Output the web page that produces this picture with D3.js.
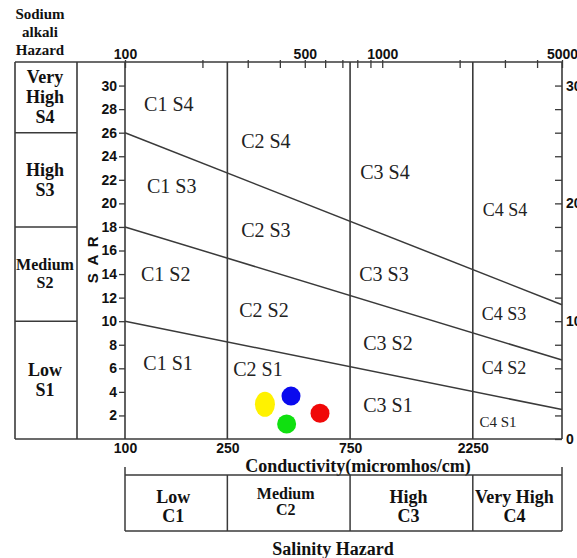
<!DOCTYPE html>
<html>
<head>
<meta charset="utf-8">
<script src="https://cdn.jsdelivr.net/npm/d3@7"></script>
<style>
  html, body { margin: 0; padding: 0; background: #fff; }
  svg { display: block; }
</style>
</head>
<body>
<svg id="chart" width="577" height="558"></svg>
<script>
// ---- Data ----------------------------------------------------------------
// Conductivity class boundaries (micromhos/cm)
const ecBreaks = [100, 250, 750, 2250, 5000];
const salinityNames = ["Low", "Medium", "High", "Very High"];
const salinityCodes = ["C1", "C2", "C3", "C4"];

// Sodium (SAR) class boundaries at 100 micromhos/cm
const sarBreaks = [0, 10, 18, 26, 32];
const sodiumNames = [["Low"], ["Medium"], ["High"], ["Very", "High"]];
const sodiumCodes = ["S1", "S2", "S3", "S4"];

// Sloping class boundaries: SAR at 100 and at 5000 micromhos/cm
const boundarySarAt100 = [10, 18, 26];
const boundarySarAt5000 = [2.5, 6.7, 11.4];

// Axis ticks
const topTickValues = [100, 200, 300, 400, 500, 600, 700, 800, 900, 1000, 2000, 3000, 4000, 5000];
const topTickLabels = [100, 500, 1000, 5000];
const bottomTickLabels = [100, 250, 750, 2250];
const sarTickValues = [2, 4, 6, 8, 10, 12, 14, 16, 18, 20, 22, 24, 26, 28, 30];
const rightTickValues = [0, 2, 4, 6, 8, 10, 12, 14, 16, 18, 20, 22, 24, 26, 28, 30];
const rightTickLabels = [0, 10, 20, 30];

// Zone labels anchored in data space (EC, SAR)
const zoneNames = ["C1 S4", "C1 S3", "C1 S2", "C1 S1",
                   "C2 S4", "C2 S3", "C2 S2", "C2 S1",
                   "C3 S4", "C3 S3", "C3 S2", "C3 S1",
                   "C4 S4", "C4 S3", "C4 S2", "C4 S1"];
const zoneEC  = [148, 152, 144, 147,
                 353, 353, 347, 329,
                 1025, 1016, 1053, 1053,
                 3000, 2975, 2975, 2820];
const zoneSAR = [27.8, 20.85, 13.45, 5.85,
                 24.7, 17.15, 10.35, 5.35,
                 22.05, 13.4, 7.55, 2.25,
                 18.95, 10.1, 5.5, 1.05];

// Water samples
const sampleEC  = [350, 442, 425, 573];
const sampleSAR = [2.94, 3.64, 1.27, 2.18];
const sampleColors = ["#fff200", "#0a0aee", "#10e010", "#f00808"];

// ---- Layout ----------------------------------------------------------------
const svg = d3.select("#chart");
const plot = { left: 125, right: 562, top: 62, bottom: 439 };
const tableLeft = 15, tableRight = 77;
const salTop = 475, salBottom = 531;

const serif = "'Liberation Serif', 'Times New Roman', serif";
const sans = "'Liberation Sans', Arial, sans-serif";
const lineColor = "#3a3a3a";

const x = d3.scaleLog().domain([100, 5000]).range([plot.left, plot.right]);
const y = d3.scaleLinear().domain([0, 32]).range([plot.bottom, plot.top]);

// ---- Frame ----------------------------------------------------------------
const frame = svg.append("g").attr("stroke", lineColor).attr("stroke-width", 1.6).attr("fill", "none");
frame.append("line").attr("x1", tableLeft).attr("x2", plot.right).attr("y1", plot.top).attr("y2", plot.top);
frame.append("line").attr("x1", tableLeft).attr("x2", plot.right).attr("y1", plot.bottom).attr("y2", plot.bottom);
[tableLeft, tableRight, plot.left, plot.right].forEach(px =>
  frame.append("line").attr("x1", px).attr("x2", px).attr("y1", plot.top).attr("y2", plot.bottom));

// Vertical salinity class dividers
frame.selectAll(".ecdiv").data(ecBreaks.slice(1, -1)).join("line")
  .attr("x1", d => x(d)).attr("x2", d => x(d))
  .attr("y1", plot.top).attr("y2", plot.bottom);

// Sloping sodium class boundaries
frame.selectAll(".sarline").data(boundarySarAt100).join("line")
  .attr("stroke-width", 1.5)
  .attr("x1", x(100)).attr("y1", d => y(d))
  .attr("x2", x(5000)).attr("y2", (d, i) => y(boundarySarAt5000[i]));

// ---- Axes ----------------------------------------------------------------
function styleAxis(g, size) {
  g.select(".domain").remove();
  g.selectAll("line").attr("stroke", lineColor).attr("stroke-width", 1.3);
  g.selectAll("text").attr("font-family", sans).attr("font-weight", "bold")
    .attr("font-size", size).attr("fill", "#111");
}

svg.append("g").attr("transform", `translate(${plot.left},0)`)
  .call(d3.axisLeft(y).tickValues(sarTickValues).tickSize(6).tickPadding(2))
  .call(g => styleAxis(g, 14));

svg.append("g").attr("transform", `translate(0,${plot.top})`)
  .call(d3.axisTop(x).tickValues(topTickValues).tickSize(-6).tickPadding(3)
    .tickFormat(d => topTickLabels.includes(d) ? d : ""))
  .call(g => styleAxis(g, 14))
  .call(g => g.selectAll(".tick line").attr("y1", -2));

svg.append("g").attr("transform", `translate(0,${plot.bottom})`)
  .call(d3.axisBottom(x).tickValues(bottomTickLabels).tickSize(0).tickPadding(4)
    .tickFormat(d3.format("d")))
  .call(g => styleAxis(g, 14));

svg.append("g").attr("transform", `translate(${plot.right},0)`)
  .call(d3.axisRight(y).tickValues(rightTickValues).tickSize(-7).tickPadding(4)
    .tickFormat(d => rightTickLabels.includes(d) ? d : ""))
  .call(g => styleAxis(g, 14));

// SAR axis title
svg.append("text")
  .attr("transform", `translate(98,${y(15.3)}) rotate(-90)`)
  .attr("text-anchor", "middle")
  .attr("font-family", sans).attr("font-weight", "bold").attr("font-size", 15)
  .attr("letter-spacing", 2).attr("fill", "#111")
  .text("S A R");

// ---- Sodium hazard table (left) ------------------------------------------
const sodiumHeader = ["Sodium", "alkali", "Hazard"];
svg.append("g").selectAll("text").data(sodiumHeader).join("text")
  .attr("x", 40).attr("y", (d, i) => 19 + i * 18)
  .attr("text-anchor", "middle")
  .attr("font-family", serif).attr("font-weight", "bold").attr("font-size", 15)
  .attr("fill", "#111").text(d => d);

const sodiumTable = svg.append("g");
sodiumTable.selectAll("line").data(sarBreaks.slice(1, -1)).join("line")
  .attr("x1", tableLeft).attr("x2", tableRight)
  .attr("y1", d => y(d)).attr("y2", d => y(d))
  .attr("stroke", lineColor).attr("stroke-width", 1.4);

sodiumNames.forEach((names, i) => {
  const lines = names.concat([sodiumCodes[i]]);
  const mid = (y(sarBreaks[i]) + y(sarBreaks[i + 1])) / 2;
  const fs = names[0] === "Medium" ? 16 : 18;
  const step = fs === 16 ? 18 : 20;
  const first = mid - (lines.length - 1) * step / 2 + fs * 0.33;
  sodiumTable.append("g").selectAll("text").data(lines).join("text")
    .attr("x", 45).attr("y", (d, j) => first + j * step)
    .attr("text-anchor", "middle")
    .attr("font-family", serif).attr("font-weight", "bold").attr("font-size", fs)
    .attr("fill", "#111").text(d => d);
});

// ---- Zone labels ----------------------------------------------------------
svg.append("g").selectAll("text").data(zoneNames).join("text")
  .attr("x", (d, i) => x(zoneEC[i]))
  .attr("y", (d, i) => y(zoneSAR[i]))
  .attr("text-anchor", "middle")
  .attr("font-family", serif)
  .attr("font-size", d => d === "C4 S1" ? 15 : d.startsWith("C4") ? 18 : 20)
  .attr("fill", "#222")
  .text(d => d);

// ---- Samples ----------------------------------------------------------------
svg.append("g").selectAll("ellipse").data(sampleEC).join("ellipse")
  .attr("cx", d => x(d))
  .attr("cy", (d, i) => y(sampleSAR[i]))
  .attr("rx", (d, i) => i === 0 ? 10 : 9.5)
  .attr("ry", (d, i) => i === 0 ? 12.5 : 9.5)
  .attr("fill", (d, i) => sampleColors[i]);

// ---- Conductivity title and salinity hazard table (bottom) --------------
svg.append("text")
  .attr("x", 358).attr("y", 472)
  .attr("text-anchor", "middle")
  .attr("font-family", serif).attr("font-weight", "bold").attr("font-size", 18)
  .attr("fill", "#111").text("Conductivity(micromhos/cm)");

const salTable = svg.append("g").attr("stroke", lineColor).attr("stroke-width", 1.5);
salTable.append("line").attr("x1", x(100)).attr("x2", x(5000)).attr("y1", salTop).attr("y2", salTop);
salTable.append("line").attr("x1", x(100)).attr("x2", x(5000)).attr("y1", salBottom).attr("y2", salBottom);
salTable.selectAll(".v").data(ecBreaks).join("line")
  .attr("x1", d => x(d)).attr("x2", d => x(d))
  .attr("y1", (d, i) => (i === 0 || i === ecBreaks.length - 1) ? salTop - 8 : salTop)
  .attr("y2", salBottom);

salinityNames.forEach((name, i) => {
  const cx = (x(ecBreaks[i]) + x(ecBreaks[i + 1])) / 2 - 3;
  const medium = name === "Medium";
  const fs = medium ? 16 : 18;
  svg.append("text").attr("x", cx).attr("y", medium ? 499 : 503)
    .attr("text-anchor", "middle")
    .attr("font-family", serif).attr("font-weight", "bold").attr("font-size", fs)
    .attr("fill", "#111").text(name);
  svg.append("text").attr("x", cx).attr("y", medium ? 515 : 522)
    .attr("text-anchor", "middle")
    .attr("font-family", serif).attr("font-weight", "bold").attr("font-size", fs)
    .attr("fill", "#111").text(salinityCodes[i]);
});

svg.append("text")
  .attr("x", 333).attr("y", 555)
  .attr("text-anchor", "middle")
  .attr("font-family", serif).attr("font-weight", "bold").attr("font-size", 18)
  .attr("fill", "#111").text("Salinity Hazard");
</script>
</body>
</html>
